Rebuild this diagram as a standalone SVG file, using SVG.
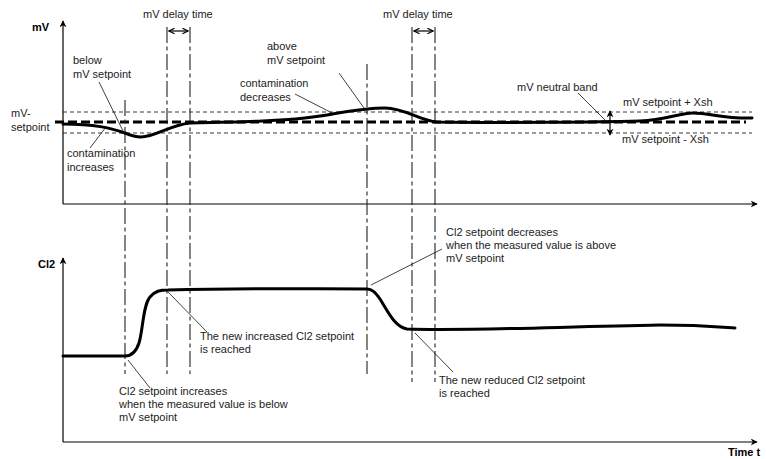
<svg xmlns="http://www.w3.org/2000/svg" width="766" height="459" viewBox="0 0 766 459">
<style>
text{font-family:"Liberation Sans",Arial,sans-serif;font-size:11px;fill:#222}
.b{font-weight:bold;fill:#000}
.ax{stroke:#000;stroke-width:1.2;fill:none}
.thin{stroke:#222;stroke-width:0.9;fill:none;stroke-dasharray:4 3}
.sp{stroke:#000;stroke-width:3;fill:none;stroke-dasharray:9 4}
.dd{stroke:#222;stroke-width:1.1;fill:none;stroke-dasharray:16 3.5 4 3.5}
.ld{stroke:#111;stroke-width:0.8;fill:none}
.cv{stroke:#000;stroke-width:3;fill:none;stroke-linecap:round;stroke-linejoin:round}
</style>
<defs>
<marker id="ah" viewBox="0 0 10 10" refX="9" refY="5" markerWidth="7" markerHeight="7" markerUnits="userSpaceOnUse" orient="auto-start-reverse">
<path d="M0,0 L10,5 L0,10 L3,5 Z" fill="#000"/>
</marker>
<marker id="oh" viewBox="0 0 10 10" refX="9" refY="5" markerWidth="7" markerHeight="7" markerUnits="userSpaceOnUse" orient="auto-start-reverse">
<path d="M1,1 L9,5 L1,9" fill="none" stroke="#000" stroke-width="1.6"/>
</marker>
</defs>
<g id="axes">
<path class="ax" d="M63,204 L63,21" marker-end="url(#ah)"/>
<path class="ax" d="M63,204 L757,204" marker-end="url(#ah)"/>
<path class="ax" d="M63,442 L63,258" marker-end="url(#ah)"/>
<path class="ax" d="M63,442 L757,442" marker-end="url(#ah)"/>
<text class="b" x="32" y="31">mV</text>
<text class="b" x="38" y="268">Cl2</text>
<text class="b" x="728" y="456">Time t</text>
</g>
<g id="bands">
<line class="thin" x1="63" y1="112" x2="752" y2="112"/>
<line class="thin" x1="63" y1="133" x2="752" y2="133"/>
<line class="sp" x1="55" y1="122" x2="746" y2="122"/>
</g>
<g id="markers">
<line class="dd" x1="125" y1="100" x2="125" y2="374"/>
<line class="dd" x1="167" y1="27" x2="167" y2="374"/>
<line class="dd" x1="190" y1="27" x2="190" y2="374"/>
<line class="dd" x1="367" y1="64" x2="367" y2="374"/>
<line class="dd" x1="412" y1="27" x2="412" y2="382"/>
<line class="dd" x1="435" y1="27" x2="435" y2="382"/>
</g>
<g id="curves">
<path class="cv" d="M63,124 C95,124 110,128 125,133 C132,136 136,137 141,137 C155,137 170,125 190,123 C240,122 290,121 320,116 C345,112 365,108 385,108 C405,108 420,121 437,122 C500,123 600,122 640,121 C665,120 680,113 693,113 C710,113 725,119 752,118"/>
<path class="cv" d="M63,356 L125,356 C132,356 136,352 139,343 C143,330 143,305 150,297 C155,291 160,290 168,290 C250,288 300,289 367,289 C372,289 375,292 380,299 C388,312 395,327 407,329 C470,331 550,327 660,325 C700,325 720,327 735,328"/>
</g>
<g id="connectors">
<path class="ax" d="M169,31 L188,31" marker-start="url(#oh)" marker-end="url(#oh)"/>
<path class="ax" d="M414,31 L433,31" marker-start="url(#oh)" marker-end="url(#oh)"/>
<path class="ax" d="M610,111 L610,135" marker-start="url(#ah)" marker-end="url(#ah)"/>
<line class="ld" x1="99" y1="82" x2="125" y2="135"/>
<line class="ld" x1="90" y1="148" x2="106" y2="127"/>
<line class="ld" x1="339" y1="73" x2="364" y2="108"/>
<line class="ld" x1="295" y1="94" x2="332" y2="113"/>
<line class="ld" x1="578" y1="93" x2="605" y2="120"/>
<line class="ld" x1="128" y1="360" x2="150" y2="388"/>
<line class="ld" x1="168" y1="292" x2="207" y2="332"/>
<line class="ld" x1="371" y1="285" x2="442" y2="249"/>
<line class="ld" x1="415" y1="333" x2="453" y2="372"/>
</g>
<g id="labels-top">
<text x="143" y="18">mV delay time</text>
<text x="383" y="18">mV delay time</text>
<text x="73" y="64">below</text>
<text x="73" y="78">mV setpoint</text>
<text x="11" y="117">mV-</text>
<text x="11" y="131">setpoint</text>
<text x="67" y="157">contamination</text>
<text x="67" y="171">increases</text>
<text x="267" y="50">above</text>
<text x="267" y="64">mV setpoint</text>
<text x="240" y="87">contamination</text>
<text x="240" y="101">decreases</text>
<text x="517" y="91">mV neutral band</text>
<text x="623" y="106">mV setpoint + Xsh</text>
<text x="622" y="143">mV setpoint - Xsh</text>
</g>
<g id="labels-bottom">
<text x="119" y="395">Cl2 setpoint increases</text>
<text x="119" y="408">when the measured value is below</text>
<text x="119" y="421">mV setpoint</text>
<text x="200" y="340">The new increased Cl2 setpoint</text>
<text x="200" y="353">is reached</text>
<text x="446" y="236">Cl2 setpoint decreases</text>
<text x="446" y="249">when the measured value is above</text>
<text x="446" y="262">mV setpoint</text>
<text x="439" y="384">The new reduced Cl2 setpoint</text>
<text x="439" y="397">is reached</text>
</g>
</svg>
